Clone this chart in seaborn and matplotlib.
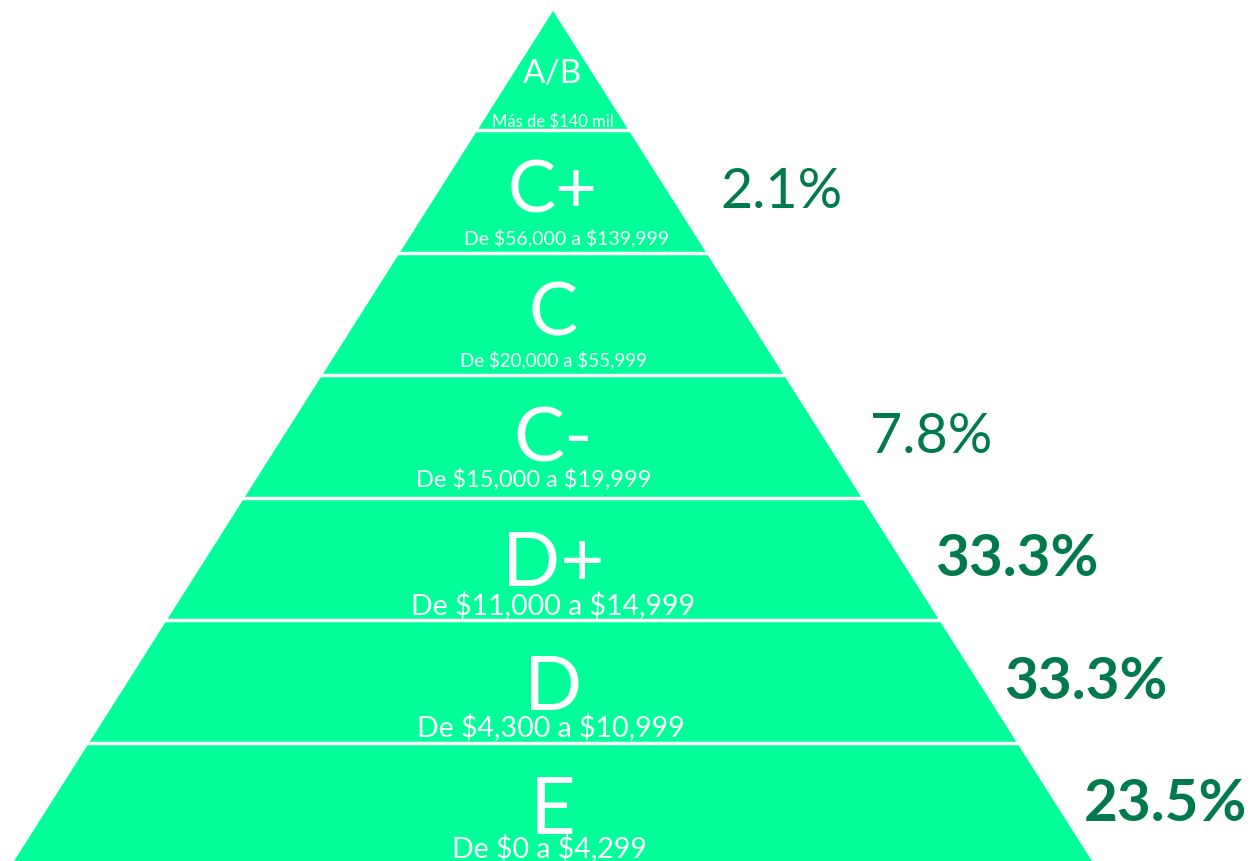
import numpy as np
import seaborn as sns
import matplotlib.pyplot as plt

# niveles socioeconomicos (de arriba hacia abajo)
niveles = ["A/B", "C+", "C", "C-", "D+", "D", "E"]
rangos = ["Más de $140 mil", "De $56,000 a $139,999", "De $20,000 a $55,999",
          "De $15,000 a $19,999", "De $11,000 a $14,999", "De $4,300 a $10,999",
          "De $0 a $4,299"]
porcentajes = [None, 2.1, None, 7.8, 33.3, 33.3, 23.5]
negritas = [False, False, False, False, True, True, True]

VERDE = "#00FF99"
VERDE_OSC = "#007A4C"

sns.set_theme(style="white")
plt.rcParams['font.family'] = ['Lato', 'DejaVu Sans']
plt.rcParams['text.parse_math'] = False

fig = plt.figure(figsize=(12.5, 8.62), dpi=100)
ax = fig.add_axes([0, 0, 1, 1])
ax.set_xlim(0, 1250)
ax.set_ylim(862, 0)
ax.axis('off')

# geometria de la piramide
apex_x, apex_y = 553, 12
slope = 0.634
primer_corte = 131
alto = 122.5
n = len(niveles)
cortes = [apex_y] + [primer_corte + i * alto for i in range(n)]


def half(y):
    return slope * (y - apex_y)


y_base = cortes[-1]
ax.fill([apex_x, apex_x + half(y_base), apex_x - half(y_base)],
        [apex_y, y_base, y_base], color=VERDE, lw=0)
for y in cortes[1:-1]:
    ax.plot([apex_x - half(y) - 5, apex_x + half(y) + 5], [y, y], color="white", lw=2.5)

# tamanos de texto y desplazamientos (layout)
tam_nivel = [24, 52, 53, 55, 55, 55, 57]
base_nivel = [71, 82, 82, 86, 88, 89, 91]
tam_rango = [12, 14, 13.5, 17, 20.5, 20.5, 20.5]
base_rango = [115, 113, 113, 111, 116, 115, 114]
dx_rango = [0, 14, 0, -19, 0, -2, -4]
gap_pct = [0, 53, 0, 47, 35, 26, 28]

for i, (niv, rng) in enumerate(zip(niveles, rangos)):
    top = cortes[i]
    ax.text(apex_x, top + base_nivel[i], niv, color="white", fontsize=tam_nivel[i],
            ha="center", va="baseline")
    ax.text(apex_x + dx_rango[i], top + base_rango[i], rng, color="white",
            fontsize=tam_rango[i], ha="center", va="baseline")
    p = porcentajes[i]
    if p is not None:
        yc = (cortes[i] + cortes[i + 1]) / 2
        ax.text(apex_x + half(yc) + gap_pct[i], yc, f"{p:.1f}%", color=VERDE_OSC,
                fontsize=42 if negritas[i] else 40,
                fontweight="bold" if negritas[i] else "normal",
                ha="left", va="center")

plt.savefig("out.png", dpi=100)
